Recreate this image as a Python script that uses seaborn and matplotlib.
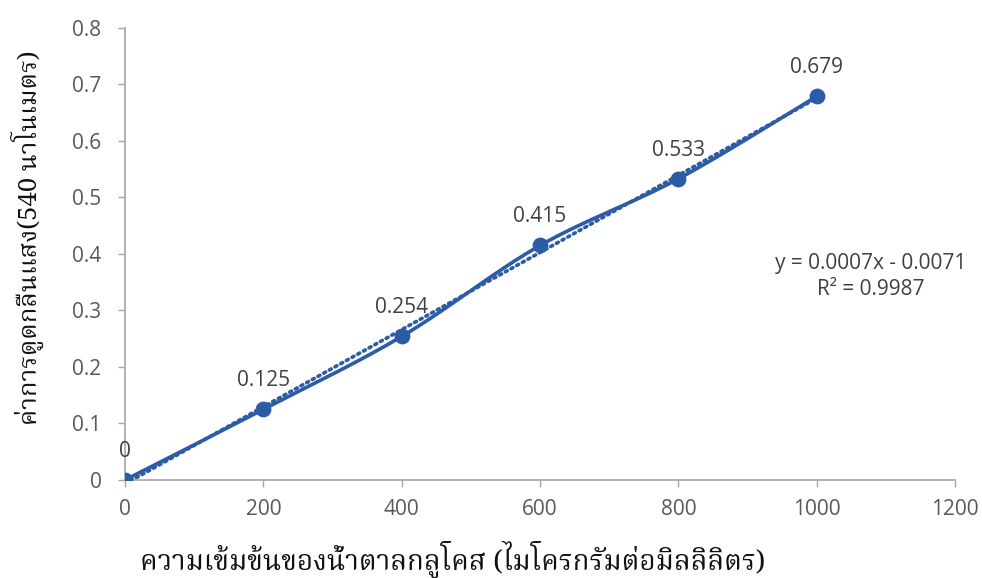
import numpy as np
import pandas as pd
import matplotlib
matplotlib.use("Agg")
import matplotlib.pyplot as plt
import seaborn as sns
from matplotlib import font_manager
from matplotlib.ft2font import FT2Font

# Glucose standard curve data
concentration = [0, 200, 400, 600, 800, 1000]
absorbance = [0, 0.125, 0.254, 0.415, 0.533, 0.679]
value_labels = ["0", "0.125", "0.254", "0.415", "0.533", "0.679"]
x_ticks = [0, 200, 400, 600, 800, 1000, 1200]
y_ticks = [0, 0.1, 0.2, 0.3, 0.4, 0.5, 0.6, 0.7, 0.8]
y_tick_labels = ["0", "0.1", "0.2", "0.3", "0.4", "0.5", "0.6", "0.7", "0.8"]
x_title = "ความเข้มข้นของน้ำตาลกลูโคส (ไมโครกรัมต่อมิลลิลิตร)"
y_title = "ค่าการดูดกลืนแสง(540 นาโนเมตร)"

BLUE = "#2D5CA6"
TEXT = "#404040"
AXIS = "#A6A6A6"

PREFERRED_THAI = ["Noto Serif Thai", "Norasi", "Kinnari", "TH Sarabun New",
                  "Sarabun", "Noto Sans Thai Looped", "Garuda", "Loma",
                  "Umpush", "Waree", "Tlwg Typo"]


def find_thai_family():
    found = []
    for f in font_manager.fontManager.ttflist:
        try:
            cmap = FT2Font(f.fname).get_charmap()
        except Exception:
            continue
        if 0x0E01 in cmap and 0x0E40 in cmap:
            found.append(f.name)
    for name in PREFERRED_THAI:
        if name in found:
            return name
    return found[0] if found else None


sns.set_theme(style="white")
thai = find_thai_family()
families = ([thai] if thai else []) + ["DejaVu Sans"]
plt.rcParams["font.family"] = ["Open Sans", "DejaVu Sans"]

df = pd.DataFrame({"x": concentration, "y": absorbance})


def smooth_curve(xs, ys, n=40):
    # Catmull-Rom style cubic Bezier through every point
    xs = np.asarray(xs, float)
    ys = np.asarray(ys, float)
    px, py = [], []
    m = len(xs)
    for i in range(m - 1):
        x0, y0 = (xs[i - 1], ys[i - 1]) if i > 0 else (xs[i], ys[i])
        x1, y1 = xs[i], ys[i]
        x2, y2 = xs[i + 1], ys[i + 1]
        x3, y3 = (xs[i + 2], ys[i + 2]) if i + 2 < m else (xs[i + 1], ys[i + 1])
        c1x, c1y = x1 + (x2 - x0) / 6, y1 + (y2 - y0) / 6
        c2x, c2y = x2 - (x3 - x1) / 6, y2 - (y3 - y1) / 6
        t = np.linspace(0, 1, n, endpoint=(i == m - 2))
        b0, b1, b2, b3 = (1 - t) ** 3, 3 * t * (1 - t) ** 2, 3 * t ** 2 * (1 - t), t ** 3
        px.append(b0 * x1 + b1 * c1x + b2 * c2x + b3 * x2)
        py.append(b0 * y1 + b1 * c1y + b2 * c2y + b3 * y2)
    return np.concatenate(px), np.concatenate(py)


fig = plt.figure(figsize=(9.82, 5.78), dpi=100)
ax = fig.add_axes([0.1273, 0.1696, 0.8452, 0.782])

# Linear trendline
slope, intercept = np.polyfit(concentration, absorbance, 1)
pred = slope * np.asarray(concentration) + intercept
r2 = 1 - np.sum((np.asarray(absorbance) - pred) ** 2) / np.sum(
    (np.asarray(absorbance) - np.mean(absorbance)) ** 2)
trend = pd.DataFrame({"x": [concentration[0], concentration[-1]],
                      "y": [slope * concentration[0] + intercept,
                            slope * concentration[-1] + intercept]})
sns.lineplot(data=trend, x="x", y="y", ax=ax, color=BLUE, lw=2.6,
             linestyle=(0, (0.6, 1.2)), dash_capstyle="round")

# Smoothed data line with markers
sx, sy = smooth_curve(concentration, absorbance)
sns.lineplot(x=sx, y=sy, ax=ax, color=BLUE, lw=2.6, sort=False)
sns.scatterplot(data=df, x="x", y="y", ax=ax, color=BLUE, s=130,
                edgecolor=BLUE, linewidth=0, zorder=5)

for xv, yv, lab in zip(concentration, absorbance, value_labels):
    ax.annotate(lab, (xv, yv), xytext=(0, 13), textcoords="offset points",
                ha="center", va="bottom", fontsize=15, color=TEXT)

ax.text(1078, 0.383, f"y = {slope:.4f}x - {abs(intercept):.4f}",
        ha="center", va="center", fontsize=15, color=TEXT)
ax.text(1078, 0.337, f"R² = {r2:.4f}",
        ha="center", va="center", fontsize=15, color=TEXT)

ax.set_xlim(0, 1200)
ax.set_ylim(0, 0.8)
ax.set_xticks(x_ticks)
ax.set_xticklabels([str(v) for v in x_ticks])
ax.set_yticks(y_ticks)
ax.set_yticklabels(y_tick_labels)
ax.tick_params(axis="both", which="major", labelsize=15, labelcolor="#595959",
               color=AXIS, length=5, width=1, direction="out",
               bottom=True, left=True)
ax.tick_params(axis="x", pad=9)
ax.tick_params(axis="y", pad=12)
for side in ("top", "right"):
    ax.spines[side].set_visible(False)
for side in ("left", "bottom"):
    ax.spines[side].set_color(AXIS)
    ax.spines[side].set_linewidth(1.2)

ax.set_xlabel(x_title, family=families, fontsize=20, color="#111111")
ax.set_ylabel(y_title, family=families, fontsize=18.5, color="#111111")
ax.xaxis.set_label_coords(0.395, -0.135)
ax.yaxis.set_label_coords(-0.097, 0.535)

fig.savefig("out.png", dpi=100, facecolor="white")
